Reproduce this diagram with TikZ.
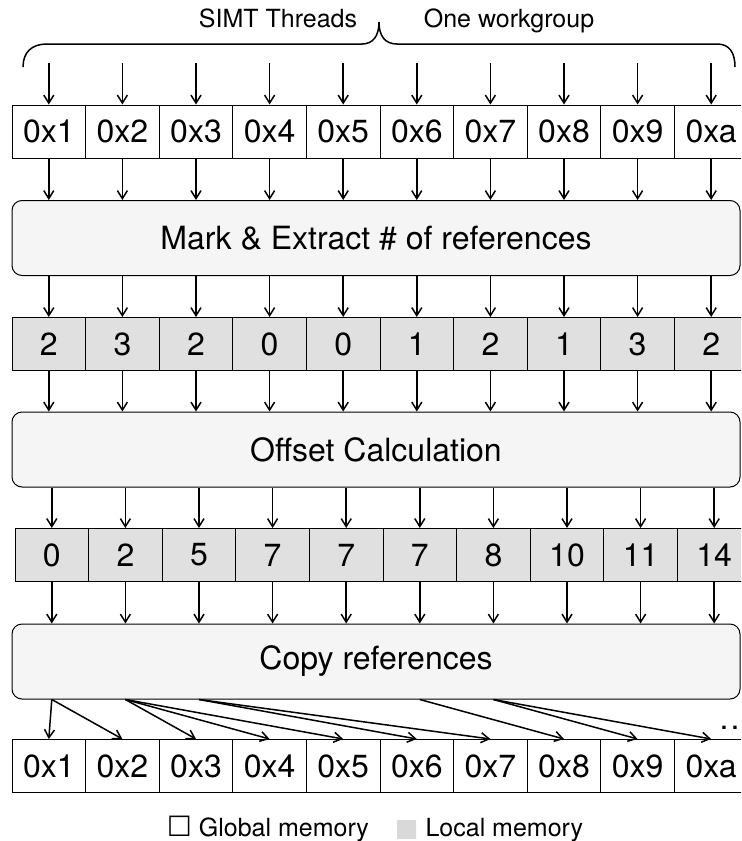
\documentclass[tikz,border=0pt]{standalone}
\usepackage{fontspec}
\setmainfont{TeX Gyre Heros}
\newfontfamily\symfont{DejaVu Sans}
\usetikzlibrary{arrows.meta}
\definecolor{localgray}{HTML}{E0E0E0}
\definecolor{stagefill}{HTML}{F5F5F5}
\definecolor{legendgray}{HTML}{D9D9D9}
\tikzset{
  cell/.style={draw, minimum width=36.8pt, minimum height=26.5pt, inner sep=0pt,
    font=\fontsize{16}{19}\selectfont},
  localcell/.style={cell, fill=localgray},
  stage/.style={draw, rounded corners=5pt, fill=stagefill, minimum width=364pt,
    minimum height=37.5pt, inner sep=0pt, font=\fontsize{16}{19}\selectfont},
  flow/.style={->, line width=0.75pt},
  note/.style={font=\fontsize{12.5}{15}\selectfont, inner sep=0pt},
}
\begin{document}
\begin{tikzpicture}[x=0.5pt, y=-0.5pt, line width=0.5pt,
    >={Straight Barb[length=4pt,width=5pt]}]
    \clip (0,0) rectangle (741,841);
    \pgfmathsetmacro{\pitch}{73.6}
    % brace over the workgroup
    \draw[line width=0.75pt] (23,67) .. controls (23,52) and (32,44) .. (47,44) -- (362,44)
      .. controls (373,44) and (379,36) .. (379,22) .. controls (379,36) and (385,44) .. (397,44)
      -- (717,44) .. controls (729,44) and (735,52) .. (735,67);
    \node[note, anchor=base] (simt) at (278,27) {SIMT Threads};
    \node[note, anchor=base] (group) at (509,27) {One workgroup};
    % input references in global memory
    \foreach \h [count=\i] in {1,2,3,4,5,6,7,8,9,a} {
      \node[cell] (a\i) at ({48.8+\pitch*(\i-1)},131.5) {0x\h};
      \coordinate (t\i) at ({48.8+\pitch*(\i-1)},63);
      \draw[flow] (t\i) -- (a\i.north);
    }
    \node[stage] (mark) at (376,238) {Mark \& Extract \# of references};
    \foreach \i in {1,...,10} \draw[flow] (a\i.south) -- (a\i.south |- mark.north);
    % counts in local memory
    \foreach \v [count=\i] in {2,3,2,0,0,1,2,1,3,2} {
      \node[localcell] (n\i) at ({48.8+\pitch*(\i-1)},344) {\v};
      \draw[flow] (n\i.north |- mark.south) -- (n\i.north);
    }
    \node[stage] (offset) at (376,449.5) {Offset Calculation};
    \foreach \i in {1,...,10} \draw[flow] (n\i.south) -- (n\i.south |- offset.north);
    % offsets in local memory
    \foreach \v [count=\i] in {0,2,5,7,7,7,8,10,11,14} {
      \node[localcell] (o\i) at ({51.8+\pitch*(\i-1)},555) {\v};
      \draw[flow] (o\i.north |- offset.south) -- (o\i.north);
    }
    \node[stage] (copy) at (376,661.5) {Copy references};
    \foreach \i in {1,...,10} \draw[flow] (o\i.south) -- (o\i.south |- copy.north);
    % output references in global memory
    \foreach \h [count=\i] in {1,2,3,4,5,6,7,8,9,a}
      \node[cell] (b\i) at ({48.8+\pitch*(\i-1)},766) {0x\h};
    \foreach \s/\t in {1/1,1/2,2/3,2/4,2/5,3/6,3/7,6/8,7/9,7/10}
      \draw[flow] (o\s.south |- copy.south) -- (b\t.north);
    \node[anchor=base west, inner sep=0pt, font=\fontsize{16}{19}\selectfont] (more) at (719,729) {.\kern1.1pt.};
    % legend
    \node[note, anchor=base] (legend) at (375,836)
      {{\symfont\fontsize{14}{15}\selectfont ☐} Global memory\hspace{13pt}{\symfont\color{legendgray}■} Local memory};
\end{tikzpicture}
\end{document}
